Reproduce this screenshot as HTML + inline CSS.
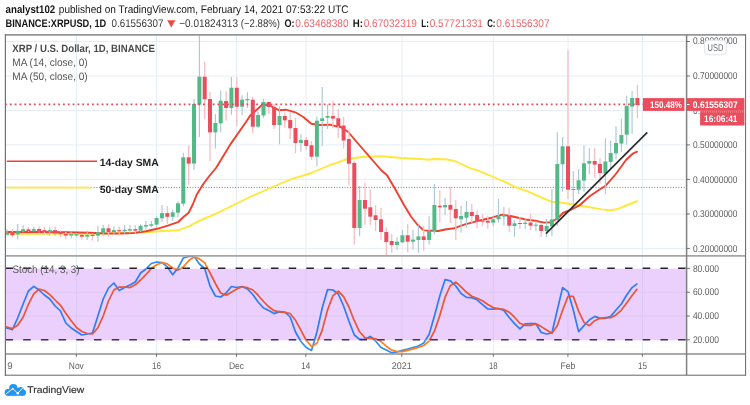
<!DOCTYPE html>
<html><head><meta charset="utf-8"><title>XRPUSD chart</title><style>html,body{margin:0;padding:0;background:#fff}svg{display:block}</style></head><body>
<svg width="750" height="405" viewBox="0 0 750 405" text-rendering="geometricPrecision" font-family="'Liberation Sans', sans-serif">
<defs><clipPath id="cm"><rect x="5.5" y="34.8" width="680.8" height="221.2"/></clipPath><clipPath id="cs"><rect x="5.5" y="256.0" width="680.8" height="98.0"/></clipPath><clipPath id="c06"><rect x="690" y="110.9" width="10.1" height="6"/></clipPath><clipPath id="cin"><rect x="0" y="268.7" width="750" height="71.6"/></clipPath><clipPath id="cout"><path d="M0 250H750V268.7H0Z M0 340.3H750V360H0Z"/></clipPath></defs>
<rect width="750" height="405" fill="#fff"/>
<line x1="5.5" x2="686.3" y1="41.5" y2="41.5" stroke="#e5eef4" stroke-width="1"/>
<line x1="5.5" x2="686.3" y1="76.0" y2="76.0" stroke="#e5eef4" stroke-width="1"/>
<line x1="5.5" x2="686.3" y1="110.4" y2="110.4" stroke="#e5eef4" stroke-width="1"/>
<line x1="5.5" x2="686.3" y1="144.9" y2="144.9" stroke="#e5eef4" stroke-width="1"/>
<line x1="5.5" x2="686.3" y1="179.4" y2="179.4" stroke="#e5eef4" stroke-width="1"/>
<line x1="5.5" x2="686.3" y1="214.0" y2="214.0" stroke="#e5eef4" stroke-width="1"/>
<line x1="5.5" x2="686.3" y1="248.4" y2="248.4" stroke="#e5eef4" stroke-width="1"/>
<line x1="5.5" x2="686.3" y1="292.2" y2="292.2" stroke="#e5eef4" stroke-width="1"/>
<line x1="5.5" x2="686.3" y1="316.0" y2="316.0" stroke="#e5eef4" stroke-width="1"/>
<line x1="76.5" x2="76.5" y1="34.8" y2="354.0" stroke="#e5eef4" stroke-width="1"/>
<line x1="156.5" x2="156.5" y1="34.8" y2="354.0" stroke="#e5eef4" stroke-width="1"/>
<line x1="236.5" x2="236.5" y1="34.8" y2="354.0" stroke="#e5eef4" stroke-width="1"/>
<line x1="306.0" x2="306.0" y1="34.8" y2="354.0" stroke="#e5eef4" stroke-width="1"/>
<line x1="402.0" x2="402.0" y1="34.8" y2="354.0" stroke="#e5eef4" stroke-width="1"/>
<line x1="493.3" x2="493.3" y1="34.8" y2="354.0" stroke="#e5eef4" stroke-width="1"/>
<line x1="568.0" x2="568.0" y1="34.8" y2="354.0" stroke="#e5eef4" stroke-width="1"/>
<line x1="642.5" x2="642.5" y1="34.8" y2="354.0" stroke="#e5eef4" stroke-width="1"/>
<g clip-path="url(#cm)">
<line x1="5.5" x2="686.3" y1="187.4" y2="187.4" stroke="#7d7d7d" stroke-width="1" stroke-dasharray="1 1.67"/>
<polyline points="5.6,233.8 60.0,233.8 90.0,233.8 134.0,232.8 149.0,232.0 164.0,231.0 178.0,230.3 190.0,225.8 196.7,222.0 214.0,214.7 250.0,197.0 272.7,187.0 290.0,179.7 311.3,173.0 330.0,165.0 335.0,163.3 347.3,159.0 361.7,157.0 381.7,156.3 401.7,158.0 420.0,159.0 429.3,159.7 433.3,159.0 445.3,159.3 454.7,161.0 461.3,164.0 470.7,168.3 480.0,171.3 493.3,177.0 506.7,182.7 515.0,187.0 528.3,191.7 541.7,197.7 551.0,201.7 561.7,202.7 575.0,204.7 588.3,207.0 601.7,209.4 610.0,210.3 616.7,209.3 627.3,205.0 637.7,201.0" fill="none" stroke="#fde83b" stroke-width="1.9" stroke-linejoin="round"/>
<polyline points="5.6,232.0 44.0,232.0 67.0,232.3 90.0,232.8 105.0,233.5 120.0,233.5 134.0,233.0 146.0,231.3 157.0,228.8 167.0,225.8 178.0,222.2 184.0,216.5 188.7,212.7 193.0,204.0 196.7,194.7 203.3,184.0 209.3,176.0 216.0,168.0 230.0,144.9 246.0,122.0 250.0,115.7 255.3,111.0 262.0,105.0 268.7,105.0 274.0,107.7 279.3,110.3 286.0,109.7 295.3,112.3 303.3,117.0 311.3,123.7 319.3,125.0 330.0,124.7 335.0,126.0 340.7,127.0 348.3,132.0 355.0,140.0 381.0,170.0 387.0,175.3 395.0,188.7 404.3,205.5 411.0,216.5 417.7,225.0 423.7,230.4 433.7,230.7 438.3,231.0 445.0,229.5 454.3,228.2 465.0,224.3 478.3,220.8 491.7,217.7 502.3,214.6 511.7,216.3 515.0,217.0 525.7,219.5 535.0,220.7 544.3,222.6 551.0,222.3 557.7,218.3 563.0,213.0 571.0,209.7 579.0,205.7 589.7,196.3 600.3,189.0 605.7,185.7 615.0,175.0 617.3,172.0 626.0,160.0 632.7,153.7 637.7,151.3" fill="none" stroke="#f0402f" stroke-width="1.9" stroke-linejoin="round"/>
<line x1="7.0" x2="7.0" y1="228.9" y2="235.3" stroke="#aac9d4" stroke-width="1.15"/>
<line x1="12.4" x2="12.4" y1="229.2" y2="237.0" stroke="#f6bec4" stroke-width="1.3"/>
<line x1="17.7" x2="17.7" y1="224.0" y2="239.3" stroke="#aac9d4" stroke-width="1.15"/>
<line x1="23.1" x2="23.1" y1="225.2" y2="232.3" stroke="#aac9d4" stroke-width="1.15"/>
<line x1="28.4" x2="28.4" y1="227.1" y2="231.9" stroke="#f6bec4" stroke-width="1.3"/>
<line x1="33.8" x2="33.8" y1="227.1" y2="231.4" stroke="#aac9d4" stroke-width="1.15"/>
<line x1="39.1" x2="39.1" y1="226.4" y2="232.6" stroke="#f6bec4" stroke-width="1.3"/>
<line x1="44.4" x2="44.4" y1="226.7" y2="234.4" stroke="#f6bec4" stroke-width="1.3"/>
<line x1="49.8" x2="49.8" y1="226.7" y2="236.0" stroke="#aac9d4" stroke-width="1.15"/>
<line x1="55.1" x2="55.1" y1="226.7" y2="236.3" stroke="#f6bec4" stroke-width="1.3"/>
<line x1="60.5" x2="60.5" y1="230.4" y2="237.0" stroke="#f6bec4" stroke-width="1.3"/>
<line x1="65.8" x2="65.8" y1="231.9" y2="239.3" stroke="#f6bec4" stroke-width="1.3"/>
<line x1="71.2" x2="71.2" y1="231.6" y2="238.2" stroke="#aac9d4" stroke-width="1.15"/>
<line x1="76.5" x2="76.5" y1="232.9" y2="237.0" stroke="#aac9d4" stroke-width="1.15"/>
<line x1="81.8" x2="81.8" y1="233.3" y2="239.7" stroke="#f6bec4" stroke-width="1.3"/>
<line x1="87.2" x2="87.2" y1="230.4" y2="240.0" stroke="#aac9d4" stroke-width="1.15"/>
<line x1="92.5" x2="92.5" y1="233.3" y2="240.7" stroke="#f6bec4" stroke-width="1.3"/>
<line x1="97.9" x2="97.9" y1="225.7" y2="241.7" stroke="#aac9d4" stroke-width="1.15"/>
<line x1="103.2" x2="103.2" y1="225.1" y2="235.7" stroke="#aac9d4" stroke-width="1.15"/>
<line x1="108.5" x2="108.5" y1="224.2" y2="236.8" stroke="#f6bec4" stroke-width="1.3"/>
<line x1="113.9" x2="113.9" y1="226.4" y2="235.0" stroke="#aac9d4" stroke-width="1.15"/>
<line x1="119.2" x2="119.2" y1="226.4" y2="235.3" stroke="#f6bec4" stroke-width="1.3"/>
<line x1="124.6" x2="124.6" y1="225.1" y2="233.8" stroke="#aac9d4" stroke-width="1.15"/>
<line x1="129.9" x2="129.9" y1="225.1" y2="233.2" stroke="#aac9d4" stroke-width="1.15"/>
<line x1="135.3" x2="135.3" y1="225.1" y2="233.8" stroke="#f6bec4" stroke-width="1.3"/>
<line x1="140.6" x2="140.6" y1="224.3" y2="232.0" stroke="#aac9d4" stroke-width="1.15"/>
<line x1="145.9" x2="145.9" y1="220.9" y2="229.8" stroke="#aac9d4" stroke-width="1.15"/>
<line x1="151.3" x2="151.3" y1="220.9" y2="227.3" stroke="#aac9d4" stroke-width="1.15"/>
<line x1="156.6" x2="156.6" y1="216.5" y2="227.6" stroke="#aac9d4" stroke-width="1.15"/>
<line x1="162.0" x2="162.0" y1="204.9" y2="221.7" stroke="#aac9d4" stroke-width="1.15"/>
<line x1="167.3" x2="167.3" y1="206.1" y2="223.9" stroke="#f6bec4" stroke-width="1.3"/>
<line x1="172.7" x2="172.7" y1="209.8" y2="220.9" stroke="#aac9d4" stroke-width="1.15"/>
<line x1="178.0" x2="178.0" y1="201.3" y2="217.3" stroke="#aac9d4" stroke-width="1.15"/>
<line x1="183.3" x2="183.3" y1="152.7" y2="206.4" stroke="#aac9d4" stroke-width="1.15"/>
<line x1="188.7" x2="188.7" y1="145.3" y2="184.7" stroke="#f6bec4" stroke-width="1.3"/>
<line x1="194.0" x2="194.0" y1="98.9" y2="170.0" stroke="#aac9d4" stroke-width="1.15"/>
<line x1="199.4" x2="199.4" y1="35.0" y2="137.0" stroke="#aac9d4" stroke-width="1.15"/>
<line x1="204.7" x2="204.7" y1="61.7" y2="119.3" stroke="#f6bec4" stroke-width="1.3"/>
<line x1="210.0" x2="210.0" y1="92.0" y2="161.3" stroke="#f6bec4" stroke-width="1.3"/>
<line x1="215.4" x2="215.4" y1="114.0" y2="148.4" stroke="#aac9d4" stroke-width="1.15"/>
<line x1="220.7" x2="220.7" y1="90.7" y2="132.4" stroke="#aac9d4" stroke-width="1.15"/>
<line x1="226.1" x2="226.1" y1="91.3" y2="120.7" stroke="#f6bec4" stroke-width="1.3"/>
<line x1="231.4" x2="231.4" y1="77.0" y2="114.7" stroke="#aac9d4" stroke-width="1.15"/>
<line x1="236.8" x2="236.8" y1="77.0" y2="126.0" stroke="#f6bec4" stroke-width="1.3"/>
<line x1="242.1" x2="242.1" y1="95.3" y2="115.3" stroke="#aac9d4" stroke-width="1.15"/>
<line x1="247.4" x2="247.4" y1="92.3" y2="108.0" stroke="#aac9d4" stroke-width="1.15"/>
<line x1="252.8" x2="252.8" y1="96.7" y2="133.3" stroke="#f6bec4" stroke-width="1.3"/>
<line x1="258.1" x2="258.1" y1="111.7" y2="128.3" stroke="#aac9d4" stroke-width="1.15"/>
<line x1="263.5" x2="263.5" y1="99.0" y2="118.3" stroke="#aac9d4" stroke-width="1.15"/>
<line x1="268.8" x2="268.8" y1="101.7" y2="113.7" stroke="#f6bec4" stroke-width="1.3"/>
<line x1="274.1" x2="274.1" y1="103.7" y2="129.0" stroke="#f6bec4" stroke-width="1.3"/>
<line x1="279.5" x2="279.5" y1="106.3" y2="144.3" stroke="#aac9d4" stroke-width="1.15"/>
<line x1="284.8" x2="284.8" y1="112.7" y2="127.7" stroke="#f6bec4" stroke-width="1.3"/>
<line x1="290.2" x2="290.2" y1="112.3" y2="139.0" stroke="#f6bec4" stroke-width="1.3"/>
<line x1="295.5" x2="295.5" y1="117.7" y2="153.3" stroke="#f6bec4" stroke-width="1.3"/>
<line x1="300.9" x2="300.9" y1="134.3" y2="151.7" stroke="#aac9d4" stroke-width="1.15"/>
<line x1="306.2" x2="306.2" y1="137.0" y2="149.7" stroke="#f6bec4" stroke-width="1.3"/>
<line x1="311.5" x2="311.5" y1="141.0" y2="159.7" stroke="#f6bec4" stroke-width="1.3"/>
<line x1="316.9" x2="316.9" y1="116.7" y2="166.3" stroke="#aac9d4" stroke-width="1.15"/>
<line x1="322.2" x2="322.2" y1="87.0" y2="145.7" stroke="#aac9d4" stroke-width="1.15"/>
<line x1="327.6" x2="327.6" y1="104.3" y2="129.0" stroke="#aac9d4" stroke-width="1.15"/>
<line x1="332.9" x2="332.9" y1="101.0" y2="128.3" stroke="#f6bec4" stroke-width="1.3"/>
<line x1="338.3" x2="338.3" y1="109.3" y2="138.3" stroke="#f6bec4" stroke-width="1.3"/>
<line x1="343.6" x2="343.6" y1="117.0" y2="148.5" stroke="#f6bec4" stroke-width="1.3"/>
<line x1="348.9" x2="348.9" y1="129.3" y2="185.3" stroke="#f6bec4" stroke-width="1.3"/>
<line x1="354.3" x2="354.3" y1="160.7" y2="244.7" stroke="#f6bec4" stroke-width="1.3"/>
<line x1="359.6" x2="359.6" y1="186.0" y2="236.0" stroke="#aac9d4" stroke-width="1.15"/>
<line x1="365.0" x2="365.0" y1="182.7" y2="224.7" stroke="#f6bec4" stroke-width="1.3"/>
<line x1="370.3" x2="370.3" y1="189.3" y2="225.3" stroke="#f6bec4" stroke-width="1.3"/>
<line x1="375.6" x2="375.6" y1="205.3" y2="231.3" stroke="#f6bec4" stroke-width="1.3"/>
<line x1="381.0" x2="381.0" y1="208.0" y2="240.0" stroke="#f6bec4" stroke-width="1.3"/>
<line x1="386.3" x2="386.3" y1="227.3" y2="255.3" stroke="#f6bec4" stroke-width="1.3"/>
<line x1="391.7" x2="391.7" y1="234.0" y2="252.7" stroke="#f6bec4" stroke-width="1.3"/>
<line x1="397.0" x2="397.0" y1="237.3" y2="249.7" stroke="#aac9d4" stroke-width="1.15"/>
<line x1="402.4" x2="402.4" y1="230.0" y2="243.3" stroke="#aac9d4" stroke-width="1.15"/>
<line x1="407.7" x2="407.7" y1="224.0" y2="252.0" stroke="#f6bec4" stroke-width="1.3"/>
<line x1="413.0" x2="413.0" y1="230.0" y2="249.7" stroke="#aac9d4" stroke-width="1.15"/>
<line x1="418.4" x2="418.4" y1="225.3" y2="252.7" stroke="#aac9d4" stroke-width="1.15"/>
<line x1="423.7" x2="423.7" y1="226.0" y2="250.7" stroke="#f6bec4" stroke-width="1.3"/>
<line x1="429.1" x2="429.1" y1="216.3" y2="244.7" stroke="#aac9d4" stroke-width="1.15"/>
<line x1="434.4" x2="434.4" y1="184.0" y2="234.3" stroke="#aac9d4" stroke-width="1.15"/>
<line x1="439.8" x2="439.8" y1="190.3" y2="222.3" stroke="#f6bec4" stroke-width="1.3"/>
<line x1="445.1" x2="445.1" y1="197.7" y2="215.0" stroke="#aac9d4" stroke-width="1.15"/>
<line x1="450.4" x2="450.4" y1="187.0" y2="223.0" stroke="#f6bec4" stroke-width="1.3"/>
<line x1="455.8" x2="455.8" y1="199.7" y2="240.0" stroke="#f6bec4" stroke-width="1.3"/>
<line x1="461.1" x2="461.1" y1="205.7" y2="232.7" stroke="#aac9d4" stroke-width="1.15"/>
<line x1="466.5" x2="466.5" y1="201.0" y2="227.7" stroke="#aac9d4" stroke-width="1.15"/>
<line x1="471.8" x2="471.8" y1="203.7" y2="223.0" stroke="#f6bec4" stroke-width="1.3"/>
<line x1="477.1" x2="477.1" y1="210.3" y2="228.3" stroke="#f6bec4" stroke-width="1.3"/>
<line x1="482.5" x2="482.5" y1="214.3" y2="226.3" stroke="#f6bec4" stroke-width="1.3"/>
<line x1="487.8" x2="487.8" y1="216.3" y2="228.7" stroke="#f6bec4" stroke-width="1.3"/>
<line x1="493.2" x2="493.2" y1="215.7" y2="226.3" stroke="#aac9d4" stroke-width="1.15"/>
<line x1="498.5" x2="498.5" y1="199.0" y2="222.7" stroke="#aac9d4" stroke-width="1.15"/>
<line x1="503.9" x2="503.9" y1="207.0" y2="225.7" stroke="#aac9d4" stroke-width="1.15"/>
<line x1="509.2" x2="509.2" y1="207.7" y2="231.7" stroke="#f6bec4" stroke-width="1.3"/>
<line x1="514.5" x2="514.5" y1="220.3" y2="236.7" stroke="#aac9d4" stroke-width="1.15"/>
<line x1="519.9" x2="519.9" y1="217.0" y2="229.0" stroke="#f6bec4" stroke-width="1.3"/>
<line x1="525.2" x2="525.2" y1="218.3" y2="229.0" stroke="#aac9d4" stroke-width="1.15"/>
<line x1="530.6" x2="530.6" y1="213.7" y2="230.3" stroke="#f6bec4" stroke-width="1.3"/>
<line x1="535.9" x2="535.9" y1="221.0" y2="231.0" stroke="#aac9d4" stroke-width="1.15"/>
<line x1="541.2" x2="541.2" y1="223.7" y2="237.0" stroke="#f6bec4" stroke-width="1.3"/>
<line x1="546.6" x2="546.6" y1="219.0" y2="237.0" stroke="#aac9d4" stroke-width="1.15"/>
<line x1="551.9" x2="551.9" y1="189.0" y2="236.3" stroke="#aac9d4" stroke-width="1.15"/>
<line x1="557.3" x2="557.3" y1="132.3" y2="225.7" stroke="#aac9d4" stroke-width="1.15"/>
<line x1="562.6" x2="562.6" y1="137.0" y2="191.7" stroke="#aac9d4" stroke-width="1.15"/>
<line x1="568.0" x2="568.0" y1="50.3" y2="199.0" stroke="#f6bec4" stroke-width="1.3"/>
<line x1="573.3" x2="573.3" y1="171.0" y2="203.7" stroke="#aac9d4" stroke-width="1.15"/>
<line x1="578.6" x2="578.6" y1="169.0" y2="193.7" stroke="#aac9d4" stroke-width="1.15"/>
<line x1="584.0" x2="584.0" y1="145.4" y2="191.7" stroke="#aac9d4" stroke-width="1.15"/>
<line x1="589.3" x2="589.3" y1="148.3" y2="174.3" stroke="#aac9d4" stroke-width="1.15"/>
<line x1="594.7" x2="594.7" y1="147.7" y2="177.7" stroke="#f6bec4" stroke-width="1.3"/>
<line x1="600.0" x2="600.0" y1="158.3" y2="183.7" stroke="#f6bec4" stroke-width="1.3"/>
<line x1="605.4" x2="605.4" y1="138.3" y2="193.7" stroke="#aac9d4" stroke-width="1.15"/>
<line x1="610.7" x2="610.7" y1="140.5" y2="169.3" stroke="#aac9d4" stroke-width="1.15"/>
<line x1="616.0" x2="616.0" y1="126.0" y2="159.3" stroke="#aac9d4" stroke-width="1.15"/>
<line x1="621.4" x2="621.4" y1="118.7" y2="152.0" stroke="#aac9d4" stroke-width="1.15"/>
<line x1="626.7" x2="626.7" y1="95.7" y2="144.7" stroke="#aac9d4" stroke-width="1.15"/>
<line x1="632.1" x2="632.1" y1="91.0" y2="133.7" stroke="#aac9d4" stroke-width="1.15"/>
<line x1="637.4" x2="637.4" y1="85.0" y2="118.3" stroke="#f6bec4" stroke-width="1.3"/>
<rect x="5.0" y="232.9" width="4" height="1.9" fill="#53b987"/>
<rect x="10.4" y="231.9" width="4" height="3.4" fill="#eb4d5c"/>
<rect x="15.7" y="230.8" width="4" height="3.6" fill="#53b987"/>
<rect x="21.1" y="229.2" width="4" height="2.2" fill="#53b987"/>
<rect x="26.4" y="229.3" width="4" height="1.8" fill="#eb4d5c"/>
<rect x="31.8" y="229.0" width="4" height="1.8" fill="#53b987"/>
<rect x="37.1" y="229.0" width="4" height="2.6" fill="#eb4d5c"/>
<rect x="42.4" y="230.1" width="4" height="1.8" fill="#eb4d5c"/>
<rect x="47.8" y="230.1" width="4" height="1.8" fill="#53b987"/>
<rect x="53.1" y="230.1" width="4" height="3.4" fill="#eb4d5c"/>
<rect x="58.5" y="231.9" width="4" height="2.2" fill="#eb4d5c"/>
<rect x="63.8" y="233.8" width="4" height="1.8" fill="#eb4d5c"/>
<rect x="69.2" y="234.1" width="4" height="1.5" fill="#53b987"/>
<rect x="74.5" y="234.1" width="4" height="1.5" fill="#53b987"/>
<rect x="79.8" y="234.8" width="4" height="1.9" fill="#eb4d5c"/>
<rect x="85.2" y="234.8" width="4" height="1.9" fill="#53b987"/>
<rect x="90.5" y="234.8" width="4" height="1.2" fill="#eb4d5c"/>
<rect x="95.9" y="232.3" width="4" height="3.4" fill="#53b987"/>
<rect x="101.2" y="228.3" width="4" height="4.5" fill="#53b987"/>
<rect x="106.5" y="228.3" width="4" height="3.7" fill="#eb4d5c"/>
<rect x="111.9" y="230.1" width="4" height="1.9" fill="#53b987"/>
<rect x="117.2" y="230.1" width="4" height="1.2" fill="#eb4d5c"/>
<rect x="122.6" y="229.8" width="4" height="1.5" fill="#53b987"/>
<rect x="127.9" y="229.1" width="4" height="1.5" fill="#53b987"/>
<rect x="133.3" y="229.1" width="4" height="1.5" fill="#eb4d5c"/>
<rect x="138.6" y="225.8" width="4" height="4.8" fill="#53b987"/>
<rect x="143.9" y="225.1" width="4" height="1.5" fill="#53b987"/>
<rect x="149.3" y="224.3" width="4" height="1.5" fill="#53b987"/>
<rect x="154.6" y="218.0" width="4" height="6.6" fill="#53b987"/>
<rect x="160.0" y="213.1" width="4" height="5.2" fill="#53b987"/>
<rect x="165.3" y="213.1" width="4" height="3.7" fill="#eb4d5c"/>
<rect x="170.7" y="212.3" width="4" height="4.5" fill="#53b987"/>
<rect x="176.0" y="203.3" width="4" height="9.4" fill="#53b987"/>
<rect x="181.3" y="157.3" width="4" height="46.4" fill="#53b987"/>
<rect x="186.7" y="157.3" width="4" height="6.3" fill="#eb4d5c"/>
<rect x="192.0" y="104.0" width="4" height="59.6" fill="#53b987"/>
<rect x="197.4" y="76.7" width="4" height="28.0" fill="#53b987"/>
<rect x="202.7" y="76.7" width="4" height="22.6" fill="#eb4d5c"/>
<rect x="208.0" y="99.0" width="4" height="33.4" fill="#eb4d5c"/>
<rect x="213.4" y="123.0" width="4" height="9.4" fill="#53b987"/>
<rect x="218.7" y="100.7" width="4" height="22.7" fill="#53b987"/>
<rect x="224.1" y="101.0" width="4" height="7.0" fill="#eb4d5c"/>
<rect x="229.4" y="87.7" width="4" height="20.3" fill="#53b987"/>
<rect x="234.8" y="87.7" width="4" height="19.0" fill="#eb4d5c"/>
<rect x="240.1" y="99.7" width="4" height="7.0" fill="#53b987"/>
<rect x="245.4" y="99.0" width="4" height="1.3" fill="#53b987"/>
<rect x="250.8" y="99.7" width="4" height="27.0" fill="#eb4d5c"/>
<rect x="256.1" y="115.0" width="4" height="11.7" fill="#53b987"/>
<rect x="261.5" y="102.0" width="4" height="13.5" fill="#53b987"/>
<rect x="266.8" y="102.0" width="4" height="5.0" fill="#eb4d5c"/>
<rect x="272.1" y="107.0" width="4" height="18.0" fill="#eb4d5c"/>
<rect x="277.5" y="116.0" width="4" height="9.0" fill="#53b987"/>
<rect x="282.8" y="116.0" width="4" height="4.3" fill="#eb4d5c"/>
<rect x="288.2" y="120.0" width="4" height="8.3" fill="#eb4d5c"/>
<rect x="293.5" y="128.0" width="4" height="15.0" fill="#eb4d5c"/>
<rect x="298.9" y="140.0" width="4" height="3.0" fill="#53b987"/>
<rect x="304.2" y="140.0" width="4" height="6.0" fill="#eb4d5c"/>
<rect x="309.5" y="145.3" width="4" height="11.4" fill="#eb4d5c"/>
<rect x="314.9" y="120.7" width="4" height="36.0" fill="#53b987"/>
<rect x="320.2" y="118.3" width="4" height="2.7" fill="#53b987"/>
<rect x="325.6" y="116.0" width="4" height="1.7" fill="#53b987"/>
<rect x="330.9" y="116.0" width="4" height="2.6" fill="#eb4d5c"/>
<rect x="336.3" y="118.3" width="4" height="7.7" fill="#eb4d5c"/>
<rect x="341.6" y="125.5" width="4" height="15.0" fill="#eb4d5c"/>
<rect x="346.9" y="139.0" width="4" height="24.7" fill="#eb4d5c"/>
<rect x="352.3" y="163.0" width="4" height="65.0" fill="#eb4d5c"/>
<rect x="357.6" y="200.0" width="4" height="28.0" fill="#53b987"/>
<rect x="363.0" y="200.0" width="4" height="8.7" fill="#eb4d5c"/>
<rect x="368.3" y="207.3" width="4" height="9.4" fill="#eb4d5c"/>
<rect x="373.6" y="215.3" width="4" height="4.7" fill="#eb4d5c"/>
<rect x="379.0" y="219.3" width="4" height="12.7" fill="#eb4d5c"/>
<rect x="384.3" y="232.0" width="4" height="10.0" fill="#eb4d5c"/>
<rect x="389.7" y="241.0" width="4" height="4.0" fill="#eb4d5c"/>
<rect x="395.0" y="241.7" width="4" height="3.3" fill="#53b987"/>
<rect x="400.4" y="235.3" width="4" height="7.0" fill="#53b987"/>
<rect x="405.7" y="235.3" width="4" height="6.4" fill="#eb4d5c"/>
<rect x="411.0" y="239.6" width="4" height="2.1" fill="#53b987"/>
<rect x="416.4" y="236.4" width="4" height="3.6" fill="#53b987"/>
<rect x="421.7" y="236.4" width="4" height="3.6" fill="#eb4d5c"/>
<rect x="427.1" y="231.0" width="4" height="9.0" fill="#53b987"/>
<rect x="432.4" y="205.0" width="4" height="26.0" fill="#53b987"/>
<rect x="437.8" y="205.7" width="4" height="1.6" fill="#eb4d5c"/>
<rect x="443.1" y="205.0" width="4" height="2.3" fill="#53b987"/>
<rect x="448.4" y="205.0" width="4" height="4.7" fill="#eb4d5c"/>
<rect x="453.8" y="209.0" width="4" height="9.3" fill="#eb4d5c"/>
<rect x="459.1" y="216.0" width="4" height="3.3" fill="#53b987"/>
<rect x="464.5" y="212.0" width="4" height="5.7" fill="#53b987"/>
<rect x="469.8" y="212.0" width="4" height="4.0" fill="#eb4d5c"/>
<rect x="475.1" y="215.0" width="4" height="6.7" fill="#eb4d5c"/>
<rect x="480.5" y="220.3" width="4" height="1.4" fill="#eb4d5c"/>
<rect x="485.8" y="220.7" width="4" height="2.0" fill="#eb4d5c"/>
<rect x="491.2" y="219.3" width="4" height="3.4" fill="#53b987"/>
<rect x="496.5" y="216.3" width="4" height="3.0" fill="#53b987"/>
<rect x="501.9" y="215.3" width="4" height="1.3" fill="#53b987"/>
<rect x="507.2" y="215.7" width="4" height="10.0" fill="#eb4d5c"/>
<rect x="512.5" y="223.3" width="4" height="2.7" fill="#53b987"/>
<rect x="517.9" y="223.0" width="4" height="1.0" fill="#eb4d5c"/>
<rect x="523.2" y="222.7" width="4" height="1.3" fill="#53b987"/>
<rect x="528.6" y="222.6" width="4" height="3.1" fill="#eb4d5c"/>
<rect x="533.9" y="224.7" width="4" height="1.0" fill="#53b987"/>
<rect x="539.2" y="225.0" width="4" height="6.0" fill="#eb4d5c"/>
<rect x="544.6" y="226.0" width="4" height="5.0" fill="#53b987"/>
<rect x="549.9" y="219.4" width="4" height="6.9" fill="#53b987"/>
<rect x="555.3" y="164.0" width="4" height="56.0" fill="#53b987"/>
<rect x="560.6" y="146.3" width="4" height="18.0" fill="#53b987"/>
<rect x="566.0" y="146.3" width="4" height="43.4" fill="#eb4d5c"/>
<rect x="571.3" y="189.0" width="4" height="1.0" fill="#53b987"/>
<rect x="576.6" y="180.3" width="4" height="9.4" fill="#53b987"/>
<rect x="582.0" y="163.3" width="4" height="17.3" fill="#53b987"/>
<rect x="587.3" y="161.0" width="4" height="2.7" fill="#53b987"/>
<rect x="592.7" y="161.0" width="4" height="3.6" fill="#eb4d5c"/>
<rect x="598.0" y="164.0" width="4" height="9.0" fill="#eb4d5c"/>
<rect x="603.4" y="161.5" width="4" height="12.2" fill="#53b987"/>
<rect x="608.7" y="153.0" width="4" height="9.0" fill="#53b987"/>
<rect x="614.0" y="143.0" width="4" height="10.3" fill="#53b987"/>
<rect x="619.4" y="135.0" width="4" height="8.6" fill="#53b987"/>
<rect x="624.7" y="106.0" width="4" height="28.7" fill="#53b987"/>
<rect x="630.1" y="98.0" width="4" height="8.6" fill="#53b987"/>
<rect x="635.4" y="98.0" width="4" height="7.0" fill="#eb4d5c"/>
<line x1="5.5" x2="686.3" y1="104.4" y2="104.4" stroke="#e8475a" stroke-width="1.9" stroke-dasharray="1.8 3.03" stroke-dashoffset="0.5"/>
<line x1="546" y1="233.7" x2="647.3" y2="132.4" stroke="#2b2b33" stroke-width="1.7"/>
<line x1="6.8" x2="97" y1="161.3" y2="161.3" stroke="#f0402f" stroke-width="1.4"/>
<line x1="6.8" x2="91.8" y1="187.6" y2="187.6" stroke="#fde83b" stroke-width="1.8"/>
</g>
<g clip-path="url(#cs)">
<rect x="5.5" y="268.7" width="680.8" height="71.6" fill="#ebcffc"/>
<line x1="5.5" x2="686.3" y1="292.2" y2="292.2" stroke="#e0c8f1" stroke-width="1"/>
<line x1="5.5" x2="686.3" y1="316.0" y2="316.0" stroke="#e0c8f1" stroke-width="1"/>
<line x1="76.5" x2="76.5" y1="268.7" y2="340.3" stroke="#dcc9f2" stroke-width="1"/>
<line x1="156.5" x2="156.5" y1="268.7" y2="340.3" stroke="#dcc9f2" stroke-width="1"/>
<line x1="236.5" x2="236.5" y1="268.7" y2="340.3" stroke="#dcc9f2" stroke-width="1"/>
<line x1="306.0" x2="306.0" y1="268.7" y2="340.3" stroke="#dcc9f2" stroke-width="1"/>
<line x1="402.0" x2="402.0" y1="268.7" y2="340.3" stroke="#dcc9f2" stroke-width="1"/>
<line x1="493.3" x2="493.3" y1="268.7" y2="340.3" stroke="#dcc9f2" stroke-width="1"/>
<line x1="568.0" x2="568.0" y1="268.7" y2="340.3" stroke="#dcc9f2" stroke-width="1"/>
<line x1="642.5" x2="642.5" y1="268.7" y2="340.3" stroke="#dcc9f2" stroke-width="1"/>
<g clip-path="url(#cin)">
<polyline points="1.7,328.0 7.0,328.0 12.4,329.6 17.7,318.0 23.1,304.0 28.4,291.0 33.8,286.4 39.1,290.0 44.4,295.0 49.8,299.0 55.1,306.0 60.5,311.0 65.8,323.0 71.2,328.0 76.5,331.5 81.8,335.0 87.2,334.0 92.5,333.0 97.9,316.0 103.2,299.0 108.5,288.0 113.9,283.0 119.2,290.4 124.6,287.5 129.9,285.0 135.3,282.0 140.6,273.0 145.9,269.0 151.3,263.5 156.6,262.0 162.0,262.5 167.3,266.8 172.7,274.8 178.0,268.0 183.3,258.0 188.7,256.5 194.0,256.3 199.4,264.0 204.7,268.5 210.0,286.0 215.4,296.0 220.7,297.0 226.1,293.0 231.4,286.5 236.8,287.5 242.1,286.5 247.4,289.0 252.8,294.5 258.1,302.0 263.5,308.0 268.8,310.4 274.1,313.6 279.5,311.6 284.8,312.0 290.2,317.0 295.5,332.0 300.9,341.5 306.2,347.5 311.5,350.4 316.9,332.0 322.2,308.0 327.6,289.5 332.9,290.0 338.3,294.0 343.6,306.0 348.9,321.0 354.3,335.0 359.6,339.3 365.0,339.0 370.3,336.4 375.6,341.0 381.0,347.5 386.3,350.0 391.7,352.8 397.0,352.0 402.4,350.3 407.7,349.0 413.0,347.5 418.4,346.0 423.7,343.0 429.1,334.5 434.4,316.0 439.8,296.0 445.1,279.6 450.4,280.8 455.8,286.0 461.1,293.5 466.5,297.4 471.8,297.6 477.1,299.8 482.5,304.6 487.8,309.0 493.2,309.2 498.5,308.5 503.9,310.5 509.2,317.5 514.5,323.6 519.9,328.8 525.2,323.8 530.6,323.6 535.9,323.6 541.2,332.5 546.6,334.0 551.9,333.0 557.3,310.0 562.6,287.6 568.0,291.6 573.3,310.0 578.6,331.6 584.0,325.6 589.3,320.0 594.7,316.4 600.0,318.4 605.4,318.4 610.7,316.4 616.0,310.0 621.4,304.0 626.7,295.0 632.1,287.6 637.4,283.6" fill="none" stroke="#2d7df5" stroke-width="1.7" stroke-linejoin="round"/>
<polyline points="1.7,326.0 7.0,327.0 12.4,328.5 17.7,325.2 23.1,317.2 28.4,304.3 33.8,293.8 39.1,289.1 44.4,290.5 49.8,294.7 55.1,300.0 60.5,305.3 65.8,313.3 71.2,320.7 76.5,327.5 81.8,331.5 87.2,333.5 92.5,334.0 97.9,327.7 103.2,316.0 108.5,301.0 113.9,290.0 119.2,287.1 124.6,287.0 129.9,287.6 135.3,284.8 140.6,280.0 145.9,274.7 151.3,268.5 156.6,264.8 162.0,262.7 167.3,263.8 172.7,268.0 178.0,269.9 183.3,266.9 188.7,260.8 194.0,256.9 199.4,258.9 204.7,262.9 210.0,272.8 215.4,283.5 220.7,293.0 226.1,295.3 231.4,292.2 236.8,289.0 242.1,286.8 247.4,287.7 252.8,290.0 258.1,295.2 263.5,301.5 268.8,306.8 274.1,310.7 279.5,311.9 284.8,312.4 290.2,313.5 295.5,320.3 300.9,330.2 306.2,340.3 311.5,346.5 316.9,343.3 322.2,330.1 327.6,309.8 332.9,295.8 338.3,291.2 343.6,296.7 348.9,307.0 354.3,320.7 359.6,331.8 365.0,337.8 370.3,338.2 375.6,338.8 381.0,341.6 386.3,346.2 391.7,350.1 397.0,351.6 402.4,351.7 407.7,350.4 413.0,348.9 418.4,347.5 423.7,345.5 429.1,341.2 434.4,331.2 439.8,315.5 445.1,297.2 450.4,285.5 455.8,282.1 461.1,286.8 466.5,292.3 471.8,296.2 477.1,298.3 482.5,300.7 487.8,304.5 493.2,307.6 498.5,308.9 503.9,309.4 509.2,312.2 514.5,317.2 519.9,323.3 525.2,325.4 530.6,325.4 535.9,323.7 541.2,326.6 546.6,330.0 551.9,333.2 557.3,325.7 562.6,310.2 568.0,296.4 573.3,296.4 578.6,311.1 584.0,322.4 589.3,325.7 594.7,320.7 600.0,318.3 605.4,317.7 610.7,317.7 616.0,314.9 621.4,310.1 626.7,303.0 632.1,295.5 637.4,288.7" fill="none" stroke="#e85537" stroke-width="1.7" stroke-linejoin="round"/>
</g><g clip-path="url(#cout)">
<polyline points="1.7,328.0 7.0,328.0 12.4,329.6 17.7,318.0 23.1,304.0 28.4,291.0 33.8,286.4 39.1,290.0 44.4,295.0 49.8,299.0 55.1,306.0 60.5,311.0 65.8,323.0 71.2,328.0 76.5,331.5 81.8,335.0 87.2,334.0 92.5,333.0 97.9,316.0 103.2,299.0 108.5,288.0 113.9,283.0 119.2,290.4 124.6,287.5 129.9,285.0 135.3,282.0 140.6,273.0 145.9,269.0 151.3,263.5 156.6,262.0 162.0,262.5 167.3,266.8 172.7,274.8 178.0,268.0 183.3,258.0 188.7,256.5 194.0,256.3 199.4,264.0 204.7,268.5 210.0,286.0 215.4,296.0 220.7,297.0 226.1,293.0 231.4,286.5 236.8,287.5 242.1,286.5 247.4,289.0 252.8,294.5 258.1,302.0 263.5,308.0 268.8,310.4 274.1,313.6 279.5,311.6 284.8,312.0 290.2,317.0 295.5,332.0 300.9,341.5 306.2,347.5 311.5,350.4 316.9,332.0 322.2,308.0 327.6,289.5 332.9,290.0 338.3,294.0 343.6,306.0 348.9,321.0 354.3,335.0 359.6,339.3 365.0,339.0 370.3,336.4 375.6,341.0 381.0,347.5 386.3,350.0 391.7,352.8 397.0,352.0 402.4,350.3 407.7,349.0 413.0,347.5 418.4,346.0 423.7,343.0 429.1,334.5 434.4,316.0 439.8,296.0 445.1,279.6 450.4,280.8 455.8,286.0 461.1,293.5 466.5,297.4 471.8,297.6 477.1,299.8 482.5,304.6 487.8,309.0 493.2,309.2 498.5,308.5 503.9,310.5 509.2,317.5 514.5,323.6 519.9,328.8 525.2,323.8 530.6,323.6 535.9,323.6 541.2,332.5 546.6,334.0 551.9,333.0 557.3,310.0 562.6,287.6 568.0,291.6 573.3,310.0 578.6,331.6 584.0,325.6 589.3,320.0 594.7,316.4 600.0,318.4 605.4,318.4 610.7,316.4 616.0,310.0 621.4,304.0 626.7,295.0 632.1,287.6 637.4,283.6" fill="none" stroke="#2f8df5" stroke-width="1.7" stroke-linejoin="round"/>
<polyline points="1.7,326.0 7.0,327.0 12.4,328.5 17.7,325.2 23.1,317.2 28.4,304.3 33.8,293.8 39.1,289.1 44.4,290.5 49.8,294.7 55.1,300.0 60.5,305.3 65.8,313.3 71.2,320.7 76.5,327.5 81.8,331.5 87.2,333.5 92.5,334.0 97.9,327.7 103.2,316.0 108.5,301.0 113.9,290.0 119.2,287.1 124.6,287.0 129.9,287.6 135.3,284.8 140.6,280.0 145.9,274.7 151.3,268.5 156.6,264.8 162.0,262.7 167.3,263.8 172.7,268.0 178.0,269.9 183.3,266.9 188.7,260.8 194.0,256.9 199.4,258.9 204.7,262.9 210.0,272.8 215.4,283.5 220.7,293.0 226.1,295.3 231.4,292.2 236.8,289.0 242.1,286.8 247.4,287.7 252.8,290.0 258.1,295.2 263.5,301.5 268.8,306.8 274.1,310.7 279.5,311.9 284.8,312.4 290.2,313.5 295.5,320.3 300.9,330.2 306.2,340.3 311.5,346.5 316.9,343.3 322.2,330.1 327.6,309.8 332.9,295.8 338.3,291.2 343.6,296.7 348.9,307.0 354.3,320.7 359.6,331.8 365.0,337.8 370.3,338.2 375.6,338.8 381.0,341.6 386.3,346.2 391.7,350.1 397.0,351.6 402.4,351.7 407.7,350.4 413.0,348.9 418.4,347.5 423.7,345.5 429.1,341.2 434.4,331.2 439.8,315.5 445.1,297.2 450.4,285.5 455.8,282.1 461.1,286.8 466.5,292.3 471.8,296.2 477.1,298.3 482.5,300.7 487.8,304.5 493.2,307.6 498.5,308.9 503.9,309.4 509.2,312.2 514.5,317.2 519.9,323.3 525.2,325.4 530.6,325.4 535.9,323.7 541.2,326.6 546.6,330.0 551.9,333.2 557.3,325.7 562.6,310.2 568.0,296.4 573.3,296.4 578.6,311.1 584.0,322.4 589.3,325.7 594.7,320.7 600.0,318.3 605.4,317.7 610.7,317.7 616.0,314.9 621.4,310.1 626.7,303.0 632.1,295.5 637.4,288.7" fill="none" stroke="#ff7d1a" stroke-width="1.7" stroke-linejoin="round"/>
</g>
<line x1="5.5" x2="690.3" y1="268.2" y2="268.2" stroke="#26222e" stroke-width="1.6" stroke-dasharray="7.5 10.2"/>
<line x1="5.5" x2="690.3" y1="339.7" y2="339.7" stroke="#45305a" stroke-width="1.6" stroke-dasharray="7.5 10.2"/>
</g>
<line x1="4.9" x2="745.7" y1="34.9" y2="34.9" stroke="#969696" stroke-width="1.6"/>
<line x1="5.5" x2="745.2" y1="255.8" y2="255.8" stroke="#a6a6a6" stroke-width="1.8"/>
<line x1="5.5" x2="745.2" y1="354" y2="354" stroke="#8e8e8e" stroke-width="1.5"/>
<line x1="5.4" x2="5.4" y1="34.2" y2="375.7" stroke="#737373" stroke-width="1.2"/>
<line x1="745.6" x2="745.6" y1="34.2" y2="375.7" stroke="#666" stroke-width="1"/>
<line x1="4.8" x2="746.1" y1="375.2" y2="375.2" stroke="#666" stroke-width="1"/>
<line x1="686.6" x2="686.6" y1="34.9" y2="375.2" stroke="#808080" stroke-width="1.5"/>
<line x1="686.3" x2="689.8" y1="41.5" y2="41.5" stroke="#6b6b6b" stroke-width="1"/>
<text x="693.1" y="44.3" font-size="9.8" fill="#5e5e5e" textLength="44.3" lengthAdjust="spacingAndGlyphs">0.80000000</text>
<line x1="686.3" x2="689.8" y1="76.0" y2="76.0" stroke="#6b6b6b" stroke-width="1"/>
<text x="693.1" y="79.1" font-size="9.8" fill="#5e5e5e" textLength="44.3" lengthAdjust="spacingAndGlyphs">0.70000000</text>
<line x1="686.3" x2="689.8" y1="144.9" y2="144.9" stroke="#6b6b6b" stroke-width="1"/>
<text x="693.1" y="148.0" font-size="9.8" fill="#5e5e5e" textLength="44.3" lengthAdjust="spacingAndGlyphs">0.50000000</text>
<line x1="686.3" x2="689.8" y1="179.4" y2="179.4" stroke="#6b6b6b" stroke-width="1"/>
<text x="693.1" y="182.5" font-size="9.8" fill="#5e5e5e" textLength="44.3" lengthAdjust="spacingAndGlyphs">0.40000000</text>
<line x1="686.3" x2="689.8" y1="214.0" y2="214.0" stroke="#6b6b6b" stroke-width="1"/>
<text x="693.1" y="217.1" font-size="9.8" fill="#5e5e5e" textLength="44.3" lengthAdjust="spacingAndGlyphs">0.30000000</text>
<line x1="686.3" x2="689.8" y1="248.4" y2="248.4" stroke="#6b6b6b" stroke-width="1"/>
<text x="693.1" y="251.5" font-size="9.8" fill="#5e5e5e" textLength="44.3" lengthAdjust="spacingAndGlyphs">0.20000000</text>
<line x1="686.3" x2="689.8" y1="268.4" y2="268.4" stroke="#6b6b6b" stroke-width="1"/>
<text x="692.9" y="271.6" font-size="9.8" fill="#5e5e5e" textLength="26" lengthAdjust="spacingAndGlyphs">80.000</text>
<line x1="686.3" x2="689.8" y1="292.2" y2="292.2" stroke="#6b6b6b" stroke-width="1"/>
<text x="692.9" y="295.4" font-size="9.8" fill="#5e5e5e" textLength="26" lengthAdjust="spacingAndGlyphs">60.000</text>
<line x1="686.3" x2="689.8" y1="316.0" y2="316.0" stroke="#6b6b6b" stroke-width="1"/>
<text x="692.9" y="319.2" font-size="9.8" fill="#5e5e5e" textLength="26" lengthAdjust="spacingAndGlyphs">40.000</text>
<line x1="686.3" x2="689.8" y1="339.8" y2="339.8" stroke="#6b6b6b" stroke-width="1"/>
<text x="692.9" y="343.0" font-size="9.8" fill="#5e5e5e" textLength="26" lengthAdjust="spacingAndGlyphs">20.000</text>
<rect x="704.6" y="40.2" width="21.6" height="14.6" rx="3.5" fill="#fff" stroke="#dde5ec" stroke-width="1"/>
<text x="707.5" y="50.9" font-size="10" fill="#666" textLength="15.8" lengthAdjust="spacingAndGlyphs">USD</text>
<text x="693.1" y="113.7" font-size="10.4" fill="#5e5e5e" textLength="44.3" lengthAdjust="spacingAndGlyphs" clip-path="url(#c06)">0.60000000</text>
<rect x="642.9" y="98.1" width="41.5" height="12.8" fill="#eb4d5c"/>
<rect x="686.9" y="98.1" width="57.5" height="12.8" fill="#eb4d5c"/>
<rect x="700.1" y="110.9" width="44.3" height="14.6" fill="#eb4d5c"/>
<line x1="700.1" x2="744.4" y1="111.9" y2="111.9" stroke="#fff" stroke-opacity="0.55" stroke-width="0.9" stroke-dasharray="1 1"/>
<line x1="686.9" x2="689.6" y1="104.5" y2="104.5" stroke="#fff" stroke-width="1"/>
<text x="650" y="107.9" font-size="9.6" font-weight="bold" fill="#fff" textLength="31.8" lengthAdjust="spacingAndGlyphs">150.48%</text>
<text x="692.8" y="107.9" font-size="9.6" font-weight="bold" fill="#fff" textLength="45" lengthAdjust="spacingAndGlyphs">0.61556307</text>
<text x="704.1" y="122.2" font-size="9.6" font-weight="bold" fill="#fff" textLength="33.4" lengthAdjust="spacingAndGlyphs">16:06:41</text>
<line x1="76.3" x2="76.3" y1="354.0" y2="356.8" stroke="#6b6b6b" stroke-width="1"/>
<text x="68.8" y="369.2" font-size="9.6" fill="#636363" textLength="15" lengthAdjust="spacingAndGlyphs">Nov</text>
<line x1="156.5" x2="156.5" y1="354.0" y2="356.8" stroke="#6b6b6b" stroke-width="1"/>
<text x="152.0" y="369.2" font-size="9.6" fill="#636363" textLength="9" lengthAdjust="spacingAndGlyphs">16</text>
<line x1="236.5" x2="236.5" y1="354.0" y2="356.8" stroke="#6b6b6b" stroke-width="1"/>
<text x="229.0" y="369.2" font-size="9.6" fill="#636363" textLength="15" lengthAdjust="spacingAndGlyphs">Dec</text>
<line x1="305.8" x2="305.8" y1="354.0" y2="356.8" stroke="#6b6b6b" stroke-width="1"/>
<text x="301.3" y="369.2" font-size="9.6" fill="#636363" textLength="9" lengthAdjust="spacingAndGlyphs">14</text>
<line x1="401.8" x2="401.8" y1="354.0" y2="356.8" stroke="#6b6b6b" stroke-width="1"/>
<text x="391.8" y="369.2" font-size="9.6" fill="#636363" textLength="20" lengthAdjust="spacingAndGlyphs">2021</text>
<line x1="493.3" x2="493.3" y1="354.0" y2="356.8" stroke="#6b6b6b" stroke-width="1"/>
<text x="489.0" y="369.2" font-size="9.6" fill="#636363" textLength="8.6" lengthAdjust="spacingAndGlyphs">18</text>
<line x1="567.9" x2="567.9" y1="354.0" y2="356.8" stroke="#6b6b6b" stroke-width="1"/>
<text x="560.4" y="369.2" font-size="9.6" fill="#636363" textLength="15" lengthAdjust="spacingAndGlyphs">Feb</text>
<line x1="642.4" x2="642.4" y1="354.0" y2="356.8" stroke="#6b6b6b" stroke-width="1"/>
<text x="637.9" y="369.2" font-size="9.6" fill="#636363" textLength="9" lengthAdjust="spacingAndGlyphs">15</text>
<text x="7.2" y="369.2" font-size="9.6" fill="#666">9</text>
<text x="12.3" y="52.4" font-size="10.6" font-weight="bold" fill="#4a4a4a" textLength="142.7" lengthAdjust="spacingAndGlyphs">XRP / U.S. Dollar, 1D, BINANCE</text>
<text x="12.3" y="66.2" font-size="10.8" fill="#575757" textLength="75.4" lengthAdjust="spacingAndGlyphs">MA (14, close, 0)</text>
<text x="12.3" y="79.5" font-size="10.8" fill="#575757" textLength="75.4" lengthAdjust="spacingAndGlyphs">MA (50, close, 0)</text>
<text x="12.4" y="272.9" font-size="10.8" fill="#5a5a5a" textLength="67.2" lengthAdjust="spacingAndGlyphs">Stoch (14, 3, 3)</text>
<text x="99.8" y="166.2" font-size="10.4" font-weight="bold" fill="#222" textLength="59" lengthAdjust="spacingAndGlyphs">14-day SMA</text>
<text x="99.8" y="192.5" font-size="10.4" font-weight="bold" fill="#222" textLength="59" lengthAdjust="spacingAndGlyphs">50-day SMA</text>
<text y="13.4" font-size="11" fill="#151515"><tspan x="5.6" font-weight="bold" textLength="49.6" lengthAdjust="spacingAndGlyphs">analyst102</tspan><tspan x="58.8" textLength="289.8" lengthAdjust="spacingAndGlyphs">published on TradingView.com, February 14, 2021 07:53:22 UTC</tspan></text>
<text y="26.9" font-size="11" fill="#151515"><tspan x="5.6" font-weight="bold" textLength="100.6" lengthAdjust="spacingAndGlyphs">BINANCE:XRPUSD, 1D</tspan><tspan x="111.5" fill="#383838" textLength="51.9" lengthAdjust="spacingAndGlyphs">0.61556307</tspan><tspan x="179.2" fill="#383838" textLength="58.8" lengthAdjust="spacingAndGlyphs">−0.01824313</tspan><tspan x="240.8" fill="#383838" textLength="39.2" lengthAdjust="spacingAndGlyphs">(−2.88%)</tspan><tspan x="284.4" font-weight="bold" textLength="10.1" lengthAdjust="spacingAndGlyphs">O:</tspan><tspan x="295.3" fill="#f0666c" textLength="53.2" lengthAdjust="spacingAndGlyphs">0.63468380</tspan><tspan x="352.8" font-weight="bold" textLength="10.2" lengthAdjust="spacingAndGlyphs">H:</tspan><tspan x="363.7" fill="#f0666c" textLength="53.3" lengthAdjust="spacingAndGlyphs">0.67032319</tspan><tspan x="421.3" font-weight="bold" textLength="7.6" lengthAdjust="spacingAndGlyphs">L:</tspan><tspan x="429.7" fill="#f0666c" textLength="53.2" lengthAdjust="spacingAndGlyphs">0.57721331</tspan><tspan x="487.2" font-weight="bold" textLength="8.3" lengthAdjust="spacingAndGlyphs">C:</tspan><tspan x="496.3" fill="#f0666c" textLength="53.2" lengthAdjust="spacingAndGlyphs">0.61556307</tspan></text>
<path d="M167.2 20.2 L175.4 20.2 L171.3 27.6 Z" fill="#ef4a42"/>
<g fill="#2196f3"><circle cx="8" cy="392.4" r="3.4"/><circle cx="17" cy="391.2" r="3.1"/><circle cx="13.3" cy="388.2" r="4.1"/><circle cx="20.5" cy="390.2" r="3.3"/><circle cx="22.9" cy="392.7" r="3.1"/><rect x="7.7" y="389.5" width="15.2" height="6.3"/></g>
<polyline points="5.6,394.3 12.7,388.7 17.8,393.3 22.8,387.8" fill="none" stroke="#fff" stroke-width="1" stroke-linejoin="round" stroke-opacity="0.92"/>
<circle cx="12.7" cy="388.7" r="0.9" fill="#fff"/><circle cx="17.8" cy="393.3" r="1.25" fill="#fff"/>
<text x="27.3" y="393.3" font-size="9.7" fill="#333" stroke="#333" stroke-width="0.15" textLength="57" lengthAdjust="spacingAndGlyphs">TradingView</text>
</svg>
</body></html>
